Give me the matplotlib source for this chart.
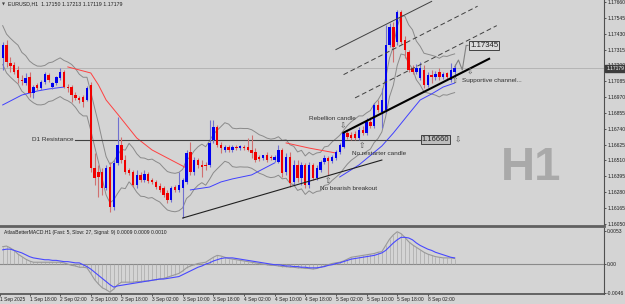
import numpy as np
import pandas as pd
import matplotlib
matplotlib.use("Agg")
import matplotlib.pyplot as plt

# ---------------- data ----------------
opens = [1.17254, 1.17348, 1.17218, 1.17203, 1.17167, 1.17094, 1.17072, 1.17116, 1.17000, 1.17058,
         1.17036, 1.17080, 1.17130, 1.17043, 1.17072, 1.17109, 1.17152, 1.17043, 1.17043, 1.16985,
         1.16964, 1.16971, 1.16949, 1.17058, 1.16455, 1.16426, 1.16426, 1.16310, 1.16463, 1.16172,
         1.16492, 1.16622, 1.16513, 1.16441, 1.16426, 1.16332, 1.16405, 1.16368, 1.16412, 1.16368,
         1.16354, 1.16325, 1.16310, 1.16274, 1.16223, 1.16317, 1.16296, 1.16310, 1.16354, 1.16571,
         1.16426, 1.16513, 1.16477, 1.16477, 1.16477, 1.16659, 1.16753, 1.16622, 1.16586, 1.16608,
         1.16586, 1.16608, 1.16600, 1.16608, 1.16608, 1.16586, 1.16571, 1.16535, 1.16528, 1.16550,
         1.16535, 1.16513, 1.16499, 1.16586, 1.16426, 1.16535, 1.16354, 1.16477, 1.16383, 1.16477,
         1.16332, 1.16477, 1.16383, 1.16441, 1.16499, 1.16528, 1.16506, 1.16528, 1.16571, 1.16608,
         1.16709, 1.16695, 1.16702, 1.16673, 1.16731, 1.16709, 1.16789, 1.16760, 1.16913, 1.16862,
         1.16876, 1.17348, 1.17479, 1.17370, 1.17588, 1.17385, 1.17297, 1.17181, 1.17152, 1.17109,
         1.17167, 1.17058, 1.17130, 1.17116, 1.17152, 1.17116, 1.17145, 1.17094, 1.17150]
highs = [1.17370, 1.17385, 1.17261, 1.17225, 1.17196, 1.17130, 1.17145, 1.17152, 1.17058, 1.17072,
         1.17094, 1.17152, 1.17145, 1.17080, 1.17123, 1.17181, 1.17167, 1.17065, 1.17058, 1.17007,
         1.16978, 1.16985, 1.17051, 1.17080, 1.16564, 1.16477, 1.16455, 1.16477, 1.16499, 1.16513,
         1.16826, 1.16680, 1.16550, 1.16455, 1.16441, 1.16441, 1.16426, 1.16441, 1.16426, 1.16383,
         1.16368, 1.16346, 1.16325, 1.16296, 1.16325, 1.16332, 1.16426, 1.16383, 1.16586, 1.16644,
         1.16535, 1.16528, 1.16513, 1.16499, 1.16804, 1.16804, 1.16768, 1.16644, 1.16622, 1.16622,
         1.16622, 1.16622, 1.16622, 1.16622, 1.16673, 1.16695, 1.16600, 1.16550, 1.16550, 1.16571,
         1.16550, 1.16550, 1.16622, 1.16600, 1.16564, 1.16571, 1.16513, 1.16513, 1.16499, 1.16492,
         1.16499, 1.16492, 1.16477, 1.16513, 1.16550, 1.16542, 1.16550, 1.16586, 1.16637, 1.16724,
         1.16724, 1.16717, 1.16724, 1.16753, 1.16760, 1.16818, 1.16826, 1.16927, 1.16949, 1.17036,
         1.17493, 1.17508, 1.17515, 1.17602, 1.17602, 1.17414, 1.17312, 1.17203, 1.17210, 1.17225,
         1.17203, 1.17152, 1.17167, 1.17160, 1.17181, 1.17152, 1.17152, 1.17218, 1.17213]
lows = [1.17167, 1.17189, 1.17152, 1.17138, 1.17072, 1.17058, 1.17058, 1.16971, 1.16964, 1.17022,
        1.17022, 1.17065, 1.17080, 1.17029, 1.17058, 1.17094, 1.17036, 1.17007, 1.16934, 1.16949,
        1.16927, 1.16898, 1.16942, 1.16426, 1.16332, 1.16245, 1.16259, 1.16296, 1.16136, 1.16151,
        1.16477, 1.16492, 1.16412, 1.16405, 1.16317, 1.16310, 1.16354, 1.16354, 1.16346, 1.16339,
        1.16303, 1.16281, 1.16245, 1.16201, 1.16208, 1.16281, 1.16281, 1.16092, 1.16339, 1.16405,
        1.16405, 1.16455, 1.16390, 1.16441, 1.16463, 1.16637, 1.16608, 1.16564, 1.16571, 1.16571,
        1.16571, 1.16586, 1.16586, 1.16586, 1.16579, 1.16528, 1.16499, 1.16506, 1.16513, 1.16499,
        1.16513, 1.16499, 1.16492, 1.16390, 1.16405, 1.16317, 1.16332, 1.16354, 1.16332, 1.16310,
        1.16310, 1.16368, 1.16368, 1.16426, 1.16484, 1.16405, 1.16492, 1.16513, 1.16557, 1.16600,
        1.16666, 1.16659, 1.16659, 1.16659, 1.16695, 1.16695, 1.16746, 1.16746, 1.16862, 1.16746,
        1.16855, 1.17334, 1.17225, 1.17348, 1.17356, 1.17254, 1.17152, 1.17138, 1.17138, 1.17094,
        1.17036, 1.17043, 1.17072, 1.17094, 1.17094, 1.17101, 1.17094, 1.17080, 1.17119]
closes = [1.17348, 1.17225, 1.17196, 1.17152, 1.17109, 1.17087, 1.17109, 1.17000, 1.17043, 1.17036,
          1.17080, 1.17138, 1.17094, 1.17072, 1.17116, 1.17152, 1.17043, 1.17036, 1.16985, 1.16964,
          1.16949, 1.16934, 1.17036, 1.16455, 1.16383, 1.16390, 1.16310, 1.16455, 1.16172, 1.16492,
          1.16622, 1.16513, 1.16426, 1.16419, 1.16332, 1.16405, 1.16368, 1.16412, 1.16361, 1.16354,
          1.16317, 1.16296, 1.16259, 1.16223, 1.16310, 1.16296, 1.16332, 1.16368, 1.16564, 1.16426,
          1.16513, 1.16477, 1.16463, 1.16470, 1.16637, 1.16753, 1.16622, 1.16600, 1.16608, 1.16586,
          1.16608, 1.16600, 1.16615, 1.16600, 1.16586, 1.16564, 1.16513, 1.16521, 1.16550, 1.16513,
          1.16528, 1.16535, 1.16586, 1.16419, 1.16535, 1.16346, 1.16477, 1.16383, 1.16477, 1.16332,
          1.16477, 1.16383, 1.16455, 1.16499, 1.16528, 1.16506, 1.16535, 1.16571, 1.16622, 1.16709,
          1.16680, 1.16673, 1.16673, 1.16731, 1.16709, 1.16789, 1.16760, 1.16913, 1.16876, 1.16949,
          1.17348, 1.17479, 1.17334, 1.17588, 1.17370, 1.17312, 1.17167, 1.17152, 1.17181, 1.17181,
          1.17058, 1.17130, 1.17116, 1.17138, 1.17116, 1.17138, 1.17116, 1.17167, 1.17179]

macd_main = [0.0028, 0.0029, 0.0026, 0.0022, 0.0016, 0.0012, 0.0008, 0.0005, 0.0003, 0.0003,
             0.0003, 0.0003, 0.0003, 0.0003, 0.0003, 0.0003, 0.0002, 0.0000, -0.0002, -0.0003,
             -0.0005, -0.0005, -0.0006, -0.0015, -0.0025, -0.0032, -0.0038, -0.0041, -0.0045, -0.0040,
             -0.0033, -0.0029, -0.0029, -0.0029, -0.0029, -0.0028, -0.0028, -0.0027, -0.0027, -0.0026,
             -0.0025, -0.0024, -0.0023, -0.0021, -0.0019, -0.0017, -0.0015, -0.0011, -0.0006, -0.0003,
             -0.0001, 0.0001, 0.0002, 0.0003, 0.0007, 0.0011, 0.0014, 0.0013, 0.0011, 0.0009,
             0.0008, 0.0007, 0.0006, 0.0005, 0.0004, 0.0003, 0.0002, 0.0001, 0.0000, -0.0001,
             -0.0002, -0.0002, -0.0003, -0.0004, -0.0004, -0.0005, -0.0005, -0.0006, -0.0006, -0.0007,
             -0.0007, -0.0008, -0.0007, -0.0005, -0.0003, -0.0001, 0.0001, 0.0002, 0.0003, 0.0005,
             0.0008, 0.0011, 0.0012, 0.0013, 0.0014, 0.0015, 0.0016, 0.0017, 0.0019, 0.0020,
             0.0030, 0.0040, 0.0047, 0.0052, 0.0049, 0.0043, 0.0036, 0.0031, 0.0027, 0.0023,
             0.0019, 0.0016, 0.0014, 0.0012, 0.0011, 0.0010, 0.0010, 0.0010, 0.0009]
macd_signal = [0.0023, 0.0024, 0.0024, 0.0022, 0.0020, 0.0018, 0.0015, 0.0012, 0.0010, 0.0009,
               0.0008, 0.0007, 0.0007, 0.0006, 0.0006, 0.0005, 0.0004, 0.0004, 0.0003, 0.0002,
               0.0002, -0.0001, -0.0004, -0.0008, -0.0013, -0.0018, -0.0023, -0.0028, -0.0033, -0.0037,
               -0.0035, -0.0034, -0.0033, -0.0032, -0.0031, -0.0030, -0.0029, -0.0028, -0.0027, -0.0026,
               -0.0025, -0.0024, -0.0024, -0.0023, -0.0022, -0.0021, -0.0020, -0.0017, -0.0014, -0.0011,
               -0.0008, -0.0005, -0.0003, 0.0000, 0.0002, 0.0005, 0.0007, 0.0009, 0.0010, 0.0010,
               0.0010, 0.0009, 0.0008, 0.0007, 0.0006, 0.0005, 0.0004, 0.0003, 0.0002, 0.0001,
               0.0000, -0.0001, -0.0001, -0.0002, -0.0003, -0.0003, -0.0004, -0.0004, -0.0005, -0.0005,
               -0.0006, -0.0006, -0.0006, -0.0005, -0.0004, -0.0002, -0.0001, 0.0001, 0.0002, 0.0004,
               0.0006, 0.0008, 0.0009, 0.0010, 0.0011, 0.0012, 0.0013, 0.0014, 0.0016, 0.0018,
               0.0022, 0.0028, 0.0034, 0.0039, 0.0043, 0.0043, 0.0042, 0.0039, 0.0034, 0.0030,
               0.0027, 0.0024, 0.0022, 0.0019, 0.0017, 0.0015, 0.0013, 0.0011, 0.0010]

# moving-average segments (bar index, price)
ma_blue_a_bars = [0, 5, 9, 12, 16]
ma_blue_a_vals = [1.16913, 1.16985, 1.17014, 1.17029, 1.17043]
ma_red_a_bars = [17, 23, 25, 27, 30, 35, 39, 44, 48]
ma_red_a_vals = [1.17189, 1.17145, 1.17058, 1.16949, 1.16847, 1.16673, 1.16586, 1.16513, 1.16455]
ma_blue_b_bars = [49, 54, 57, 60, 65, 71]
ma_blue_b_vals = [1.16296, 1.16317, 1.16354, 1.16376, 1.16405, 1.16492]
ma_red_b_bars = [74, 80, 87]
ma_red_b_vals = [1.16637, 1.16600, 1.16564]
ma_blue_c_bars = [88, 93, 99, 102, 106, 109, 112, 115, 118]
ma_blue_c_vals = [1.16390, 1.16477, 1.16615, 1.16709, 1.16847, 1.16949, 1.16993, 1.17043, 1.17072]

# envelope settings of the gray bands
env_period = 5
env_pct = 0.0012

# drawn objects
support_line_bars = [89, 127]
support_line_vals = [1.16712, 1.17248]
channel_mid_bars = [92, 129]
channel_mid_vals = [1.16964, 1.17489]
channel_up_bars = [89, 124]
channel_up_vals = [1.17133, 1.17630]
channel_top_bars = [87, 112]
channel_top_vals = [1.17315, 1.17665]
trend_bars = [47, 99]
trend_vals = [1.16092, 1.16513]
proj_bars = [118, 119, 120, 121, 121.5]
proj_vals = [1.17189, 1.17239, 1.17167, 1.17345, 1.17345]
d1_level = 1.16660
target_level = 1.17345
last_price = 1.17179

price_ticks = [1.17660, 1.17545, 1.17430, 1.17315, 1.17200, 1.17085, 1.16970, 1.16855,
               1.16740, 1.16625, 1.16510, 1.16395, 1.16280, 1.16165, 1.16050]
macd_ticks = [0.0053, 0.0, -0.0046]
macd_tick_labels = ["0.0053", "0.00", "-0.0046"]
time_tick_bars = [-0.7, 7, 15, 23, 31, 39, 47, 55, 63, 71, 79, 87, 95, 103, 111]
time_tick_labels = ["1 Sep 2025", "1 Sep 18:00", "2 Sep 02:00", "2 Sep 10:00", "2 Sep 18:00",
                    "3 Sep 02:00", "3 Sep 10:00", "3 Sep 18:00", "4 Sep 02:00", "4 Sep 10:00",
                    "4 Sep 18:00", "5 Sep 02:00", "5 Sep 10:00", "5 Sep 18:00", "8 Sep 02:00"]

# ---------------- figure ----------------
BG = "#d4d4d4"
SMALL = "Liberation Sans"
W, H = 625, 304
plt.rcParams["font.family"] = ["DejaVu Sans"]
fig = plt.figure(figsize=(W / 100, H / 100), dpi=100, facecolor=BG)


def rect(l, t, r, b):
    return [l / W, 1 - b / H, (r - l) / W, (b - t) / H]


ax = fig.add_axes(rect(0, 0, 604, 226), facecolor=BG)
axm = fig.add_axes(rect(0, 228, 604, 294), facecolor=BG, sharex=ax)

n = len(closes)
idx = np.arange(n)
o = np.array(opens); c = np.array(closes); hi = np.array(highs); lo = np.array(lows)
up = c >= o
col = np.where(up, "#0000f0", "#f00000")
wick_col = np.where(up, "#7070d0", "#d07070")

# envelope bands computed from the closes
cs = pd.Series(closes)
mid = cs.rolling(env_period, min_periods=1).mean()
ax.plot(idx, mid * (1 + env_pct), color="#8a8a8a", lw=0.7, zorder=2)
ax.plot(idx, mid * (1 - env_pct), color="#8a8a8a", lw=0.7, zorder=2)

# MA segments
for bx, bv, cc in [(ma_blue_a_bars, ma_blue_a_vals, "#4040ff"), (ma_red_a_bars, ma_red_a_vals, "#ff4040"),
                   (ma_blue_b_bars, ma_blue_b_vals, "#4040ff"), (ma_red_b_bars, ma_red_b_vals, "#ff4040"),
                   (ma_blue_c_bars, ma_blue_c_vals, "#4040ff")]:
    ax.plot(bx, bv, color=cc, lw=0.7, zorder=2)

# current price and D1 line
ax.axhline(last_price, color="#b0b0b0", lw=0.6, zorder=1)
ax.plot([19, 109.2], [d1_level, d1_level], color="#404040", lw=0.8, zorder=3)

# candles
ax.vlines(idx, lo, hi, colors=wick_col, lw=0.8, zorder=4)
body = np.maximum(np.abs(c - o), 0.000012)
ax.bar(idx, body, bottom=np.minimum(o, c), width=0.62, color=col, zorder=5, linewidth=0)

# trend lines / channel
ax.plot(trend_bars, trend_vals, color="#202020", lw=0.8, zorder=6)
ax.plot(support_line_bars, support_line_vals, color="#000000", lw=1.5, zorder=6)
ax.plot(channel_mid_bars, channel_mid_vals, color="#404040", lw=0.7, ls=(0, (5, 3)), zorder=6)
ax.plot(channel_up_bars, channel_up_vals, color="#404040", lw=0.7, ls=(0, (5, 3)), zorder=6)
ax.plot(channel_top_bars, channel_top_vals, color="#404040", lw=0.7, zorder=6)
ax.plot(proj_bars, proj_vals, color="#808080", lw=0.8, zorder=6)

# annotations
tc = "#303030"
fs = 4.6
ax.text(18.4, d1_level, "D1 Resistance", ha="right", va="center", fontsize=fs, color=tc, family=SMALL)
ax.text(109.4, d1_level, "1.16660", ha="left", va="center", fontsize=5.4, color="#202020", family=SMALL,
        bbox=dict(boxstyle="square,pad=0.12", fc="#bdbdbd", ec="#404040", lw=0.7), zorder=7)
ax.text(122.0, target_level, "1.17345", ha="left", va="center", fontsize=5.6, color="#202020", family=SMALL,
        bbox=dict(boxstyle="square,pad=0.12", fc="#dcdcdc", ec="#404040", lw=0.7), zorder=7)
ax.text(86.0, 1.16818, "Rebellion candle", ha="center", va="center", fontsize=fs, color=tc, family=SMALL)
ax.text(91.2, 1.16564, "No restarter candle", ha="left", va="center", fontsize=fs, color=tc, family=SMALL)
ax.text(82.8, 1.16303, "No bearish breakout", ha="left", va="center", fontsize=fs, color=tc, family=SMALL)
ax.text(120.0, 1.17087, "Supportive channel...", ha="left", va="center", fontsize=fs, color=tc, family=SMALL)
arrow_kw = dict(ha="center", va="center", fontsize=5.5, color="#505050", zorder=7)
ax.text(88.9, 1.16760, "\u21e9", **arrow_kw)
ax.text(93.8, 1.16622, "\u21e7", **arrow_kw)
ax.text(85.0, 1.16368, "\u21e7", **arrow_kw)
ax.text(118.1, 1.17094, "\u21e7", **arrow_kw)
ax.text(122.0, 1.17152, "\u21e9", **arrow_kw)
ax.text(118.8, d1_level, "\u21e9", **arrow_kw)

# axes setup main
ax.set_xlim(-0.705, 157.0)
ax.set_ylim(1.16034, 1.17675)
for s in ["top", "left"]:
    ax.spines[s].set_visible(False)
ax.spines["right"].set_color("#505050")
ax.spines["bottom"].set_color("#606060")
ax.spines["bottom"].set_linewidth(2)
ax.yaxis.tick_right()
ax.set_yticks(price_ticks)
ax.set_yticklabels([f"{v:.5f}" for v in price_ticks], family=SMALL)
ax.tick_params(axis="y", labelsize=3.6, length=1.5, width=0.5, pad=0.8, colors="#202020")
ax.tick_params(axis="x", bottom=False, labelbottom=False)
ax.annotate(f"{last_price:.5f}", xy=(1.0, last_price), xycoords=("axes fraction", "data"),
            xytext=(1.6, 0), textcoords="offset points", ha="left", va="center", fontsize=3.6,
            family=SMALL, color="white", bbox=dict(boxstyle="square,pad=0.25", fc="#3c3c3c", ec="#3c3c3c"),
            annotation_clip=False, zorder=10)

fig.text(2 / W, 1 - 4 / H, "\u25bc", fontsize=2.8, color="#404040", va="center")
fig.text(8 / W, 1 - 4 / H, "EURUSD,H1  1.17150 1.17213 1.17119 1.17179", fontsize=3.8,
         color="#202020", va="center", family=SMALL)
fig.text(531 / W, 1 - 168 / H, "H1", fontsize=34, fontweight="bold", color="#a9a9a9",
         ha="center", va="center", family="Liberation Sans")

# ---------------- MACD panel ----------------
mm = np.array(macd_main)
axm.vlines(idx, 0, mm, colors="#a8a8a8", lw=0.5, zorder=2)
axm.axhline(0, color="#8a8a8a", lw=0.8, zorder=1)
axm.plot(idx, mm, color="#999999", lw=0.8, zorder=3)
axm.plot(idx, macd_signal, color="#4848ff", lw=0.8, zorder=4)
axm.set_ylim(-0.0048, 0.0058)
axm.spines["top"].set_visible(False)
axm.spines["left"].set_visible(False)
axm.spines["right"].set_color("#505050")
axm.spines["bottom"].set_color("#505050")
axm.spines["bottom"].set_linewidth(1.2)
axm.yaxis.tick_right()
axm.set_yticks(macd_ticks)
axm.set_yticklabels(macd_tick_labels, family=SMALL)
axm.tick_params(axis="y", labelsize=3.6, length=1.5, width=0.5, pad=0.8, colors="#202020")
axm.set_xticks(time_tick_bars)
axm.set_xticklabels(time_tick_labels, family=SMALL)
axm.tick_params(axis="x", labelsize=3.5, length=1.5, width=0.5, pad=1, colors="#202020")
for lbl in axm.get_xticklabels():
    lbl.set_horizontalalignment("left")
axm.text(0.006, 0.93, "AtlasBetterMACD.H1 (Fast: 5, Slow: 27, Signal: 9) 0.0009 0.0009 0.0010",
         transform=axm.transAxes, fontsize=3.6, color="#202020", va="center", family=SMALL)

fig.savefig("out.png", dpi=100, facecolor=BG)
